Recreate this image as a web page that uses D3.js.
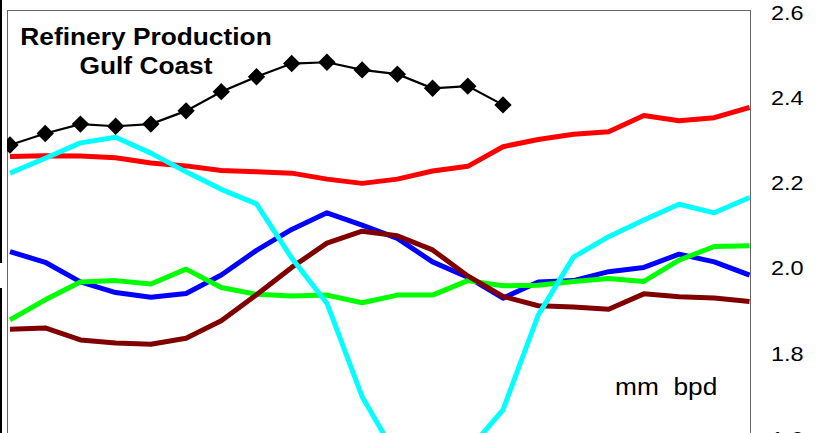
<!DOCTYPE html>
<html><head><meta charset="utf-8">
<script src="https://cdn.jsdelivr.net/npm/d3@7/dist/d3.min.js"></script>
<style>
html,body{margin:0;padding:0;background:#fff;overflow:hidden}
svg{display:block}
text{font-family:"Liberation Sans",Arial,sans-serif}
</style>
</head><body>
<svg id="chart" width="818" height="433"></svg>
<script>
// ---- data ----
const categories = ["1","2","3","4","5","6","7","8","9","10","11","12","13","14","15","16","17","18","19","20","21","22"];
const yTicks = [1.6, 1.8, 2.0, 2.2, 2.4, 2.6];
const titleLines = ["Refinery Production", "Gulf Coast"];
const unitLabel = "mm  bpd";

const seriesBlack = [2.287,2.314,2.336,2.331,2.336,2.367,2.412,2.447,2.478,2.481,2.463,2.453,2.420,2.425,2.381];
const seriesRed   = [2.260,2.262,2.261,2.257,2.245,2.238,2.227,2.224,2.221,2.207,2.197,2.207,2.226,2.237,2.283,2.300,2.312,2.318,2.356,2.344,2.351,2.375];
const seriesCyan  = [2.221,2.256,2.292,2.305,2.268,2.224,2.183,2.149,2.022,1.916,1.697,1.554,1.520,1.570,1.666,1.888,2.024,2.072,2.111,2.148,2.128,2.164];
const seriesBlue  = [2.037,2.012,1.966,1.941,1.930,1.939,1.982,2.040,2.089,2.128,2.099,2.068,2.013,1.977,1.928,1.966,1.969,1.990,2.000,2.031,2.013,1.982];
const seriesGreen = [1.877,1.924,1.966,1.969,1.961,1.996,1.953,1.937,1.933,1.935,1.917,1.935,1.935,1.969,1.957,1.958,1.967,1.974,1.967,2.017,2.049,2.051];
const seriesBrown = [1.855,1.858,1.830,1.823,1.820,1.834,1.875,1.936,2.000,2.057,2.085,2.074,2.041,1.980,1.932,1.910,1.907,1.902,1.938,1.931,1.928,1.920];

// ---- layout ----
const svg = d3.select("#chart");
const plot = {left: 7, top: 10, right: 750, bottom: 438};

const x = d3.scalePoint().domain(categories).range([10, 749.5]);
const y = d3.scaleLinear().domain([1.6, 2.6]).range([438, 11.5]);

// fragment of neighbouring frame at far left
svg.append("rect").attr("x",0).attr("y",0).attr("width",2).attr("height",263).attr("fill","#000");
svg.append("rect").attr("x",0).attr("y",288).attr("width",2).attr("height",145).attr("fill","#000");

svg.append("defs").append("clipPath").attr("id","clip")
  .append("rect").attr("x",plot.left).attr("y",plot.top)
  .attr("width",plot.right-plot.left).attr("height",plot.bottom-plot.top);

// plot border
svg.append("rect")
  .attr("x",plot.left+0.5).attr("y",plot.top+0.5)
  .attr("width",plot.right-plot.left).attr("height",plot.bottom-plot.top+20)
  .attr("fill","none").attr("stroke","#666").attr("stroke-width",1);

// y axis on right
const yAxis = d3.axisRight(y).tickValues(yTicks).tickFormat(d3.format(".1f")).tickSize(0).tickPadding(0);
const ga = svg.append("g").attr("transform",`translate(${plot.right},0)`).call(yAxis);
ga.select(".domain").remove();
ga.selectAll("text")
  .attr("x",0).attr("dy","0.36em")
  .attr("transform","translate(21,0) scale(1.12,1)")
  .attr("font-size",21).attr("font-family","Liberation Sans, Arial, sans-serif").attr("fill","#000");

const g = svg.append("g").attr("clip-path","url(#clip)");
const line = d3.line()
  .defined(d => d != null)
  .x((d,i) => x(categories[i]))
  .y(d => y(d));

const colored = [
  {data: seriesRed,   color: "#ff0000"},
  {data: seriesBlue,  color: "#0000ff"},
  {data: seriesGreen, color: "#00ff00"},
  {data: seriesBrown, color: "#800000"},
  {data: seriesCyan,  color: "#00ffff"}
];
colored.forEach(s => {
  g.append("path").datum(s.data)
    .attr("d", line)
    .attr("fill","none").attr("stroke",s.color)
    .attr("stroke-width",5).attr("stroke-linejoin","round");
});

g.append("path").datum(seriesBlack)
  .attr("d", line)
  .attr("fill","none").attr("stroke","#000").attr("stroke-width",2.2);

const diamond = d3.symbol().type(d3.symbolSquare).size(150);
g.selectAll(".dm").data(seriesBlack).join("path")
  .attr("class","dm")
  .attr("d", diamond)
  .attr("transform",(d,i) => `translate(${x(categories[i])},${y(d)}) rotate(45)`)
  .attr("fill","#000");

// title
svg.append("text").text(titleLines[0])
  .attr("transform","translate(146,45) scale(1.12,1)")
  .attr("text-anchor","middle").attr("font-weight","bold").attr("font-size",23.5).attr("fill","#000");
svg.append("text").text(titleLines[1])
  .attr("transform","translate(146,74) scale(1.12,1)")
  .attr("text-anchor","middle").attr("font-weight","bold").attr("font-size",23.5).attr("fill","#000");

// unit label
svg.append("text").text(unitLabel)
  .attr("transform","translate(615,395) scale(1.12,1)")
  .attr("xml:space","preserve").style("white-space","pre")
  .attr("font-size",23.5).attr("fill","#000");
</script>
</body></html>
